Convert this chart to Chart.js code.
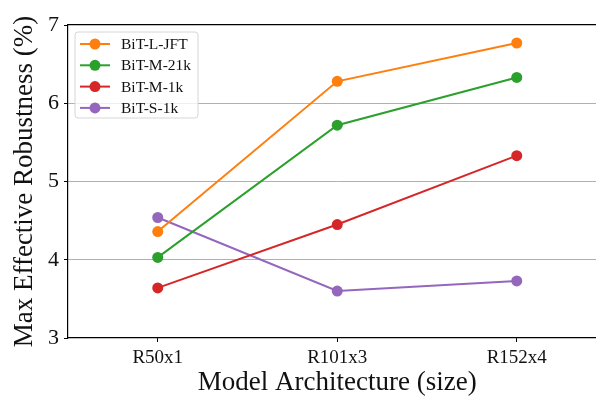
<!DOCTYPE html>
<html>
<head>
<meta charset="utf-8">
<script src="https://cdn.jsdelivr.net/npm/chart.js@4"></script>
<style>
  html, body { margin: 0; padding: 0; background: #fff; overflow: hidden; }
  #wrap { width: 612px; height: 400px; }
</style>
</head>
<body>
<div id="wrap"><canvas id="line_chart" width="612" height="400"></canvas></div>
<script>
const architectures = ['R50x1', 'R101x3', 'R152x4'];
const bitLJft = [4.36, 6.28, 6.77];
const bitM21k = [4.03, 5.72, 6.33];
const bitM1k = [3.64, 4.45, 5.33];
const bitS1k = [4.54, 3.60, 3.73];
const yTicks = [3, 4, 5, 6, 7];

const SERIF = '"Liberation Serif", "DejaVu Serif", serif';

function series(label, values, color) {
  return {
    label: label,
    data: values,
    borderColor: color,
    backgroundColor: color,
    borderWidth: 2,
    pointRadius: 5.5,
    pointHoverRadius: 5.5,
    pointBorderWidth: 0,
    tension: 0,
  };
}

// legend drawn inside the plot, like matplotlib's upper-left legend
const insideLegend = {
  id: 'insideLegend',
  afterDatasetsDraw(chart) {
    const ctx = chart.ctx;
    const sets = chart.data.datasets;
    const x0 = 75, y0 = 32, w = 123, h = 86;
    ctx.save();
    ctx.beginPath();
    ctx.roundRect(x0, y0, w, h, 3);
    ctx.fillStyle = 'rgba(255,255,255,0.8)';
    ctx.fill();
    ctx.strokeStyle = '#d6d6d6';
    ctx.lineWidth = 1;
    ctx.stroke();
    ctx.font = '15.5px ' + SERIF;
    ctx.textBaseline = 'middle';
    sets.forEach((ds, i) => {
      const y = 44 + i * 21.3;
      ctx.strokeStyle = ds.borderColor;
      ctx.lineWidth = 2;
      ctx.beginPath();
      ctx.moveTo(80, y);
      ctx.lineTo(110, y);
      ctx.stroke();
      ctx.fillStyle = ds.borderColor;
      ctx.beginPath();
      ctx.arc(95, y, 5.5, 0, Math.PI * 2);
      ctx.fill();
      ctx.fillStyle = '#111';
      ctx.fillText(ds.label, 121, y + 1);
    });
    ctx.restore();
  }
};

const config = {
  type: 'line',
  data: {
    labels: architectures,
    datasets: [
      series('BiT-L-JFT', bitLJft, '#ff7f0e'),
      series('BiT-M-21k', bitM21k, '#2ca02c'),
      series('BiT-M-1k', bitM1k, '#d62728'),
      series('BiT-S-1k', bitS1k, '#9467bd'),
    ]
  },
  options: {
    responsive: false,
    animation: false,
    layout: { padding: { left: 0, right: 5.5, top: 0, bottom: 0 } },
    plugins: {
      legend: { display: false },
      title: { display: false },
      tooltip: { enabled: false },
    },
    scales: {
      x: {
        type: 'category',
        offset: true,
        afterFit: (s) => { s.height = 62; },
        grid: { display: true, drawOnChartArea: false, tickLength: 4, tickColor: '#000', offset: false },
        border: { display: true, color: '#000', width: 1.2 },
        ticks: { color: '#111', padding: 5, font: { family: SERIF, size: 19 } },
        title: { display: true, text: 'Model Architecture (size)', color: '#111',
                 padding: { top: 0, bottom: 1 }, font: { family: SERIF, size: 27 } },
      },
      xTop: {
        type: 'category',
        position: 'top',
        offset: true,
        afterFit: (s) => { s.height = 25; },
        grid: { display: false },
        border: { display: true, color: '#000', width: 1.2 },
        ticks: { display: false },
      },
      y: {
        min: 3,
        max: 7,
        afterFit: (s) => { s.width = 68; },
        afterBuildTicks: (s) => { s.ticks = yTicks.map(v => ({ value: v })); },
        grid: {
          color: (c) => (c.tick && (c.tick.value === 3 || c.tick.value === 7)) ? 'rgba(0,0,0,0)' : '#b0b0b0',
          tickColor: '#000',
          tickLength: 4,
          lineWidth: 1,
        },
        border: { display: true, color: '#000', width: 1.2 },
        ticks: { color: '#111', padding: 5, font: { family: SERIF, size: 22 } },
        title: { display: true, text: 'Max Effective Robustness (%)', color: '#111',
                 padding: { top: 9, bottom: 0 }, font: { family: SERIF, size: 27 } },
      }
    }
  },
  plugins: [insideLegend]
};

new Chart(document.getElementById('line_chart').getContext('2d'), config);
</script>
</body>
</html>
